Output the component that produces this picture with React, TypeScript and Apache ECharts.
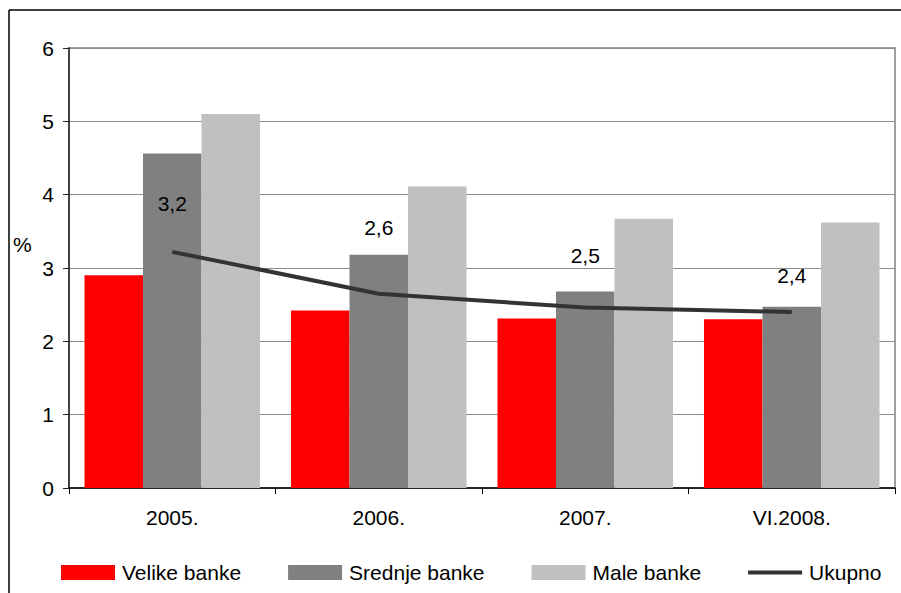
import React, { useEffect, useRef } from "react";
import * as echarts from "echarts";

const categories = ["2005.", "2006.", "2007.", "VI.2008."];
const velike = [2.9, 2.42, 2.31, 2.3];
const srednje = [4.56, 3.18, 2.68, 2.47];
const male = [5.1, 4.11, 3.67, 3.62];
const ukupno = [3.22, 2.65, 2.46, 2.4];
const ukupnoLabels = ["3,2", "2,6", "2,5", "2,4"];
const labelDistances = [38, 56, 42, 26];
const yTicks = [0, 1, 2, 3, 4, 5, 6];

const FONT = "'Liberation Sans', Arial, sans-serif";

export default function App() {
  const ref = useRef<HTMLDivElement>(null);
  useEffect(() => {
    if (!ref.current) return;
    const chart = echarts.init(ref.current, undefined, { renderer: "svg" });
    chart.setOption({
      animation: false,
      backgroundColor: "#ffffff",
      textStyle: { fontFamily: FONT },
      grid: {
        left: 69,
        top: 48,
        right: 6,
        bottom: 105,
        show: true,
        borderColor: "#a0a0a0",
        borderWidth: 2,
      },
      legend: {
        left: 61,
        top: 562,
        padding: 0,
        itemWidth: 54,
        itemHeight: 15,
        itemGap: 47,
        textStyle: { fontSize: 21, color: "#000", fontFamily: FONT, padding: [0, 0, 0, 2] },
        data: [
          { name: "Velike banke", icon: "rect" },
          { name: "Srednje banke", icon: "rect" },
          { name: "Male banke", icon: "rect" },
          {
            name: "Ukupno",
            icon: "path://M0,0 M0,5.5 L54,5.5 L54,9.5 L0,9.5 Z M54,15",
            itemStyle: { color: "#333333" },
          },
        ],
      },
      xAxis: {
        type: "category",
        data: categories,
        axisLine: { lineStyle: { color: "#000", width: 1.5 } },
        axisTick: { show: true, length: 6, lineStyle: { color: "#000" } },
        axisLabel: { fontSize: 21, color: "#000", margin: 19, fontFamily: FONT },
      },
      yAxis: {
        type: "value",
        min: 0,
        max: yTicks[yTicks.length - 1],
        interval: 1,
        axisLine: { show: true, lineStyle: { color: "#222", width: 1.5 } },
        axisTick: { show: true, length: 6, lineStyle: { color: "#222" } },
        axisLabel: { fontSize: 21, color: "#000", margin: 15, fontFamily: FONT },
        splitLine: { show: true, lineStyle: { color: "#8c8c8c", width: 1 } },
      },
      graphic: [
        { type: "line", shape: { x1: 9, y1: 10, x2: 901, y2: 10 }, style: { stroke: "#000", lineWidth: 1.5 } },
        { type: "line", shape: { x1: 9, y1: 10, x2: 9, y2: 593 }, style: { stroke: "#000", lineWidth: 1.5 } },
        {
          type: "text",
          left: 13,
          top: 234,
          style: { text: "%", fontSize: 21, fill: "#000", fontFamily: FONT },
        },
      ],
      series: [
        {
          name: "Velike banke",
          type: "bar",
          data: velike,
          barGap: "0%",
          barCategoryGap: "15%",
          itemStyle: { color: "#ff0000" },
        },
        {
          name: "Srednje banke",
          type: "bar",
          data: srednje,
          barGap: "0%",
          barCategoryGap: "15%",
          itemStyle: { color: "#808080" },
        },
        {
          name: "Male banke",
          type: "bar",
          data: male,
          barGap: "0%",
          barCategoryGap: "15%",
          itemStyle: { color: "#c0c0c0" },
        },
        {
          name: "Ukupno",
          type: "line",
          symbol: "none",
          z: 5,
          lineStyle: { color: "#333333", width: 4 },
          itemStyle: { color: "#333333" },
          data: ukupno,
        },
        {
          name: "UkupnoLabels",
          type: "scatter",
          symbolSize: 0,
          z: 6,
          itemStyle: { color: "#333333" },
          emphasis: { disabled: true },
          data: ukupno.map((v, i) => ({
            value: v,
            label: {
              show: true,
              position: "top",
              distance: labelDistances[i],
              formatter: ukupnoLabels[i],
              fontSize: 21,
              color: "#000000",
              opacity: 1,
              fontFamily: FONT,
            },
          })),
        },
      ],
    });
    return () => chart.dispose();
  }, []);
  return (
    <div
      ref={ref}
      style={{ position: "fixed", left: 0, top: 0, width: 901, height: 593 }}
    />
  );
}
